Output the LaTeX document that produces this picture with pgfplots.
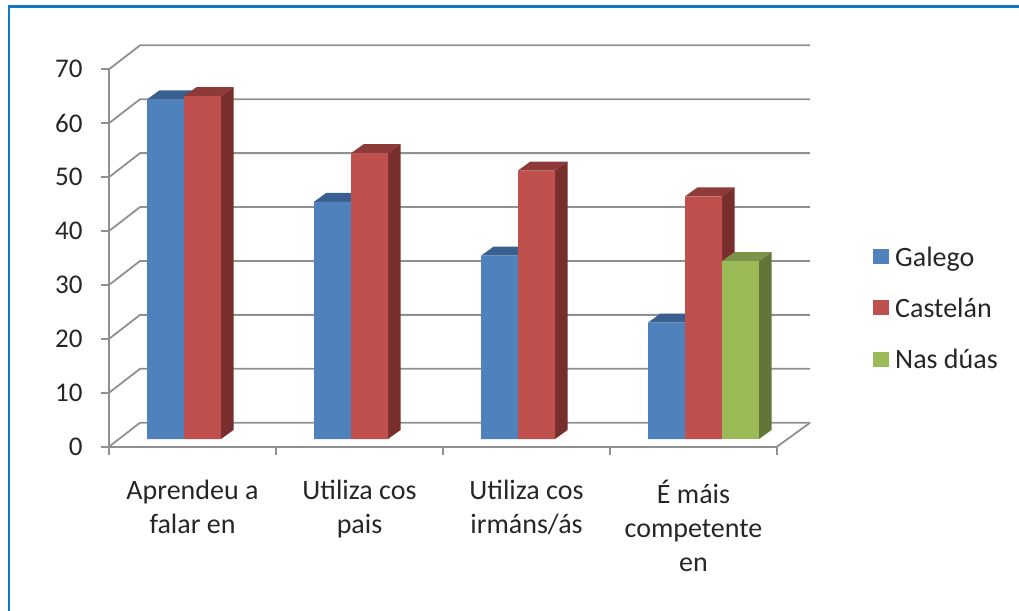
\documentclass[border=0pt]{standalone}
\usepackage{fontspec}
\setmainfont{Carlito}
\usepackage{pgfplots}
\pgfplotsset{compat=1.18}
\definecolor{bluef}{HTML}{4F81BD}\definecolor{bluet}{HTML}{3A6090}\definecolor{blues}{HTML}{2F4F75}
\definecolor{redf}{HTML}{C0504D}\definecolor{redt}{HTML}{8E3A38}\definecolor{reds}{HTML}{772E2C}
\definecolor{greenf}{HTML}{9BBB59}\definecolor{greent}{HTML}{7A9449}\definecolor{greens}{HTML}{637637}
\definecolor{gridc}{HTML}{909090}\definecolor{framec}{HTML}{0F78C8}\definecolor{txt}{HTML}{262626}
% wall line for one tick value
\newcommand\wall[1]{\addplot[gridc,line width=1.8pt,forget plot] coordinates {(0,#1) (0.186,{#1+4.45}) (4.198,{#1+4.45})};}
% top and side of one bar: category centre, position in group, value, colours
\newcommand\depth[5]{%
 \addplot[draw=none,fill=#4,forget plot,xshift=10pt,yshift=7.7pt] coordinates {({#1+(#2-.5)*.2216},#3) ({#1+(#2+.5)*.2216},#3) ({#1+(#2+.5)*.2216+.0749},{#3+1.67}) ({#1+(#2-.5)*.2216+.0749},{#3+1.67})} -- cycle;
 \addplot[draw=none,fill=#5,forget plot,xshift=10pt,yshift=7.7pt] coordinates {({#1+(#2+.5)*.2216},0) ({#1+(#2+.5)*.2216},#3) ({#1+(#2+.5)*.2216+.0749},{#3+1.67}) ({#1+(#2+.5)*.2216+.0749},1.67)} -- cycle;}
\begin{document}
\begin{tikzpicture}
\path[use as bounding box] (0pt,0pt) rectangle (1019pt,610pt);
\draw[framec,line width=2.2pt] (9pt,-2pt) -- (9pt,603.5pt) -- (1022pt,603.5pt);
\begin{axis}[
 at={(109pt,163.3pt)},anchor=south west,
 scale only axis,width=668pt,height=377.4pt,
 xmin=0,xmax=4,ymin=0,ymax=70,
 clip=false,
 axis lines=left,
 axis line style={-,gridc,line width=1.8pt},
 tick style={gridc,line width=1.8pt},
 tick align=outside,major tick length=8pt,
 xtick={0,1,2,3,4},xticklabels={},
 ytick={0,10,...,70},
 extra x ticks={0.5,1.5,2.5,3.5},
 extra x tick labels={{Aprendeu a\\falar en},{Utiliza cos\\pais},{Utiliza cos\\irmáns/ás},{É máis\\competente\\en}},
 extra x tick style={major tick length=0pt,tick style={draw=none}},
 x tick label style={align=center,font=\fontsize{28}{34}\selectfont,text=txt,yshift=-30pt},
 y tick label style={font=\fontsize{27}{30}\selectfont,text=txt,xshift=-15pt},
 /pgf/number format/assume math mode=true,
 legend style={at={(1.1437,0.3662)},anchor=west,draw=none,fill=none,inner xsep=0pt,inner ysep=0pt,
   font=\fontsize{28}{30}\selectfont,text=txt,row sep=30.5pt,
   nodes={inner ysep=0pt,inner xsep=6pt}},
 legend cell align=left,
 barf/.style={ybar,bar width=37pt,draw=none,xshift=10pt,yshift=7.7pt},
]
\wall{0}\wall{10}\wall{20}\wall{30}\wall{40}\wall{50}\wall{60}\wall{70}
\addplot[gridc,line width=1.8pt,forget plot] coordinates {(4,0) (4.198,4.45)};
\depth{0.5}{-1}{63}{bluet}{blues}\depth{0.5}{0}{63.6}{redt}{reds}
\depth{1.5}{-1}{44}{bluet}{blues}\depth{1.5}{0}{53}{redt}{reds}
\depth{2.5}{-1}{34}{bluet}{blues}\depth{2.5}{0}{49.8}{redt}{reds}
\depth{3.5}{-1}{21.6}{bluet}{blues}\depth{3.5}{0}{45}{redt}{reds}
\depth{3.5}{1}{33}{greent}{greens}
\addplot[barf,fill=bluef,bar shift=-37pt,legend image code/.code={\fill[bluef] (0pt,-14.5pt) rectangle (16pt,0.5pt);}]
 coordinates {(0.5,63) (1.5,44) (2.5,34) (3.5,21.6)};
\addplot[barf,fill=redf,bar shift=0pt,legend image code/.code={\fill[redf] (0pt,-14.5pt) rectangle (16pt,0.5pt);}]
 coordinates {(0.5,63.6) (1.5,53) (2.5,49.8) (3.5,45)};
\addplot[barf,fill=greenf,bar shift=37pt,legend image code/.code={\fill[greenf] (0pt,-14.5pt) rectangle (16pt,0.5pt);}]
 coordinates {(3.5,33)};
\legend{Galego,Castelán,Nas dúas}
\end{axis}
\end{tikzpicture}
\end{document}
